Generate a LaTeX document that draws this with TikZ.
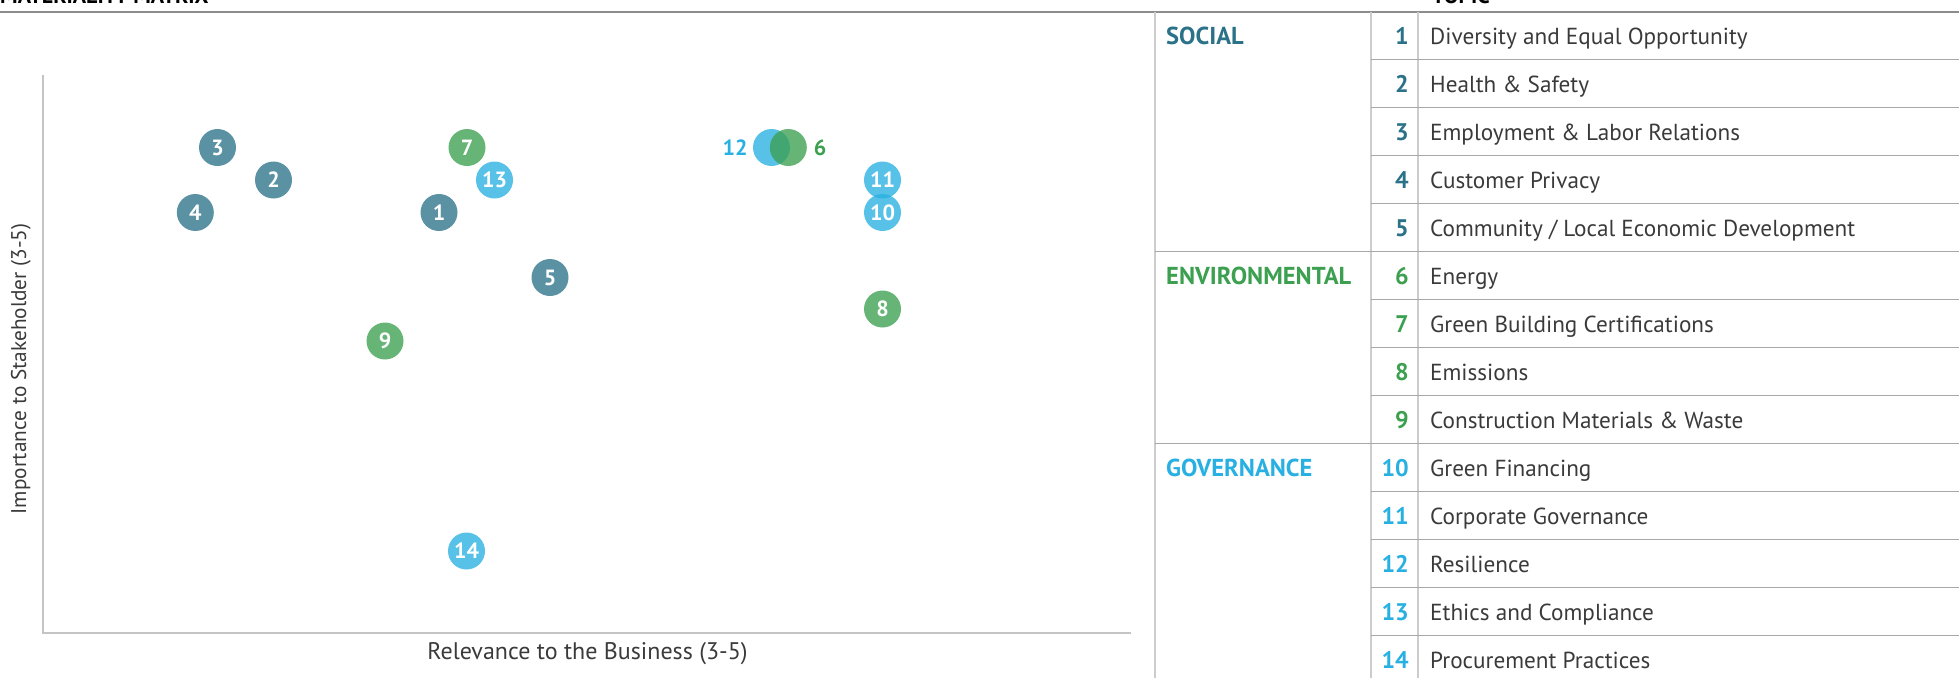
\documentclass[tikz,border=0pt]{standalone}
\usepackage{fontspec}
\setmainfont{PT Sans}
\definecolor{socc}{HTML}{2B7289}
\definecolor{envc}{HTML}{3CA050}
\definecolor{govc}{HTML}{28B0E2}
\definecolor{txtc}{HTML}{3A3A3A}
\definecolor{topl}{HTML}{8C8C8C}
\definecolor{vline}{HTML}{CCCCCC}
\definecolor{hline}{HTML}{A8A8A8}
\definecolor{axisc}{HTML}{C4C4C4}
\begin{document}
\begin{tikzpicture}[x=1pt,y=-1pt,
  bub/.style={circle,minimum size=37pt,inner sep=0pt,text=white,fill opacity=0.78,text opacity=1,
    font=\fontsize{22}{22}\selectfont\bfseries},
  socb/.style={bub,fill=socc},
  envb/.style={bub,fill=envc},
  govb/.style={bub,fill=govc},
  cat/.style={anchor=base west,inner sep=0pt,font=\fontsize{24.5}{24.5}\selectfont\bfseries},
  num/.style={anchor=base east,inner sep=0pt,font=\fontsize{24}{24}\selectfont\bfseries},
  topic/.style={anchor=base west,inner sep=0pt,text=txtc,font=\fontsize{23.2}{23.2}\selectfont},
  axlab/.style={inner sep=0pt,text=txtc},
  head/.style={anchor=base west,inner sep=0pt,text=black,font=\fontsize{22}{22}\selectfont\bfseries},
  outlab/.style={inner sep=0pt,font=\fontsize{22}{22}\selectfont\bfseries},
  axisline/.style={draw=axisc,line width=1.6pt},
  tabv/.style={draw=vline,line width=2pt},
  tabh/.style={draw=hline,line width=1.5pt}]
\useasboundingbox (0,0) rectangle (1959,678);
\begin{scope}
\clip (0,0) rectangle (1959,678);
\node[head] (h1) at (0,3.3) {MATERIALITY MATRIX};
\node[head] (h2) at (1432,3.3) {TOPIC};
\end{scope}
% top rule
\draw[draw=topl,line width=2pt] (0,11.5) -- (1959,11.5);
% axes
\coordinate (ytop) at (43,75);
\coordinate (orig) at (43,633);
\coordinate (xend) at (1131,633);
\draw[axisline] (ytop) -- (orig) -- (xend);
\node[axlab,rotate=90,font=\fontsize{21.3}{21.3}\selectfont] (ylab) at (21,369) {Importance to Stakeholder (3-5)};
\node[axlab,font=\fontsize{24}{24}\selectfont] (xlab) at (587.5,654) {Relevance to the Business (3-5)};
% bubbles
\node[socb] (b3) at (217.5,147.5) {3};
\node[socb] (b2) at (273.5,180) {2};
\node[socb] (b4) at (195.3,212.5) {4};
\node[socb] (b1) at (439,212.5) {1};
\node[envb] (b7) at (467,147.5) {7};
\node[govb] (b13) at (494.5,180) {13};
\node[socb] (b5) at (550,277.5) {5};
\node[envb] (b9) at (385,341) {9};
\node[govb] (b14) at (466.5,551) {14};
\node[govb] (b12) at (771.5,147.5) {};
\node[envb] (b6) at (788.3,147.5) {};
\node[outlab,text=govc] (l12) at (735,147.5) {12};
\node[outlab,text=envc] (l6) at (820,147.5) {6};
\node[govb] (b11) at (882.5,180) {11};
\node[govb] (b10) at (882.5,212.5) {10};
\node[envb] (b8) at (882.5,309) {8};
% table lines
\draw[tabv] (1155,11.5) -- (1155,678);
\draw[tabv] (1371,11.5) -- (1371,678);
\draw[tabv] (1418,11.5) -- (1418,678);
\foreach \i in {1,2,3,4,6,7,8,10,11,12,13}{
  \draw[tabh] (1371,11.5+48*\i) -- (1959,11.5+48*\i);
}
\foreach \i in {5,9}{
  \draw[tabh] (1155,11.5+48*\i) -- (1959,11.5+48*\i);
}
% categories
\node[cat,text=socc] (cs) at (1166,44) {SOCIAL};
\node[cat,text=envc] (ce) at (1166,44+48*5) {ENVIRONMENTAL};
\node[cat,text=govc] (cg) at (1166,44+48*9) {GOVERNANCE};
% rows
\foreach \n/\t/\c in {1/{Diversity and Equal Opportunity}/socc,
  2/{Health \& Safety}/socc,
  3/{Employment \& Labor Relations}/socc,
  4/{Customer Privacy}/socc,
  5/{Community / Local Economic Development}/socc,
  6/{Energy}/envc,
  7/{Green Building Certifications}/envc,
  8/{Emissions}/envc,
  9/{Construction Materials \& Waste}/envc,
  10/{Green Financing}/govc,
  11/{Corporate Governance}/govc,
  12/{Resilience}/govc,
  13/{Ethics and Compliance}/govc,
  14/{Procurement Practices}/govc}{
  \node[num,text=\c] (n\n) at (1409,44+48*\n-48) {\n};
  \node[topic] (t\n) at (1430,44+48*\n-48) {\t};
}
\end{tikzpicture}
\end{document}
